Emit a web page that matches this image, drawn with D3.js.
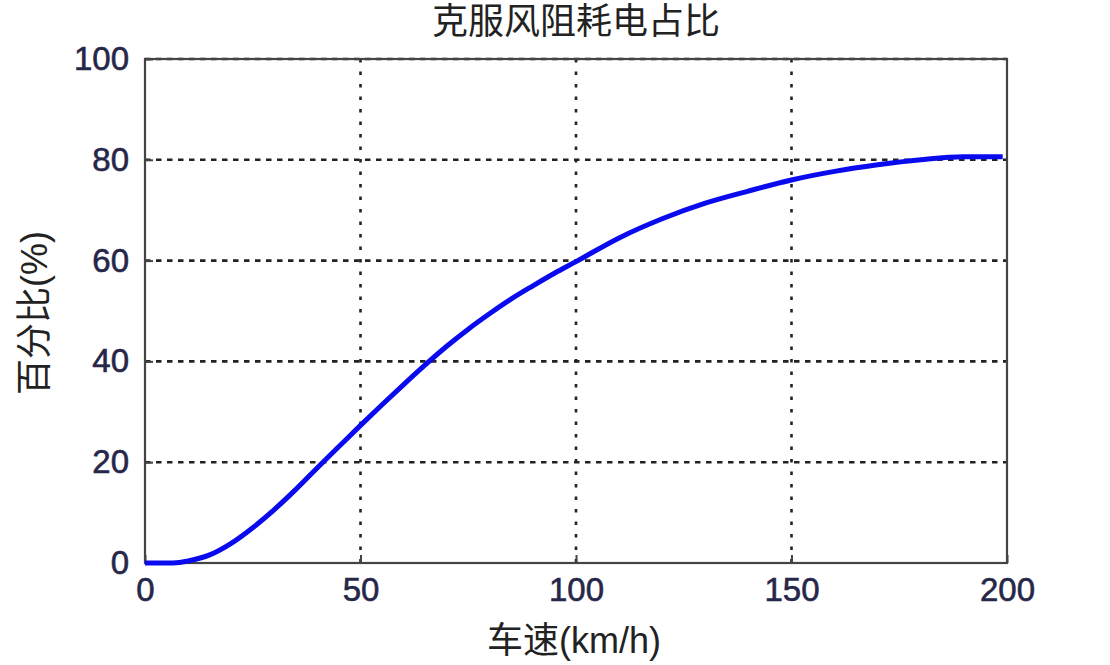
<!DOCTYPE html>
<html lang="zh">
<head>
<meta charset="UTF-8">
<title>克服风阻耗电占比</title>
<style>
  body { margin: 0; background: #fff; }
  svg { display: block; }
  text { font-family: "Liberation Sans", Arial, "Noto Sans CJK SC", sans-serif; }
</style>
</head>
<body>
<svg id="chart"></svg>
<script src="https://cdn.jsdelivr.net/npm/d3@7"></script>
<script>
    // 车速 (km/h)
    var speed = [0, 5, 8, 10, 15, 20, 25, 30, 35, 40, 45, 50, 55, 60, 65, 70, 75, 80, 85, 90, 95,
                 100, 110, 120, 130, 140, 150, 160, 170, 180, 190, 199];
    // 百分比 (%)
    var percent = [0, 0, 0.1, 0.4, 1.6, 3.9, 7, 10.6, 14.6, 18.9, 23.1, 27.3, 31.4, 35.4, 39.3, 43, 46.4, 49.5, 52.4, 55, 57.5,
                   59.8, 64.5, 68.3, 71.4, 73.8, 76, 77.7, 79, 80, 80.6, 80.6];
    var xTicks = [0, 50, 100, 150, 200];
    var yTicks = [0, 20, 40, 60, 80, 100];

    var width = 1110, height = 665;
    var margin = {top: 59, right: 103, bottom: 102, left: 145};
    var w = width - margin.left - margin.right;
    var h = height - margin.top - margin.bottom;

    var svg = d3.select("#chart")
        .attr("width", width)
        .attr("height", height);

    var x = d3.scaleLinear().domain([0, 200]).range([0, w]);
    var y = d3.scaleLinear().domain([0, 100]).range([h, 0]);

    var g = svg.append("g")
        .attr("transform", "translate(" + margin.left + "," + margin.top + ")");

    // 网格（虚线）
    g.selectAll(".vgrid").data(xTicks.slice(1, -1)).enter()
        .append("line")
        .attr("x1", function(d){ return x(d); })
        .attr("x2", function(d){ return x(d); })
        .attr("y1", 0).attr("y2", h)
        .attr("stroke", "#222")
        .attr("stroke-width", 2.6)
        .attr("stroke-dasharray", "3.5,9");

    g.selectAll(".hgrid").data(yTicks.slice(1)).enter()
        .append("line")
        .attr("x1", 0).attr("x2", w)
        .attr("y1", function(d){ return y(d); })
        .attr("y2", function(d){ return y(d); })
        .attr("stroke", "#222")
        .attr("stroke-width", 2.6)
        .attr("stroke-dasharray", "5.5,5.5");

    // 外框
    g.append("rect")
        .attr("width", w).attr("height", h)
        .attr("fill", "none")
        .attr("stroke", "#444")
        .attr("stroke-width", 2.2);

    // 坐标轴
    var xAxis = g.append("g")
        .attr("transform", "translate(0," + h + ")")
        .call(d3.axisBottom(x).tickValues(xTicks).tickSizeInner(-8).tickSizeOuter(0).tickPadding(15));
    var yAxis = g.append("g")
        .call(d3.axisLeft(y).tickValues(yTicks).tickSizeInner(-8).tickSizeOuter(0).tickPadding(16));

    [xAxis, yAxis].forEach(function(a){
        a.select(".domain").remove();
        a.selectAll(".tick line").attr("stroke", "#444").attr("stroke-width", 2);
        a.selectAll(".tick text")
            .attr("fill", "#262648")
            .attr("stroke", "#262648")
            .attr("stroke-width", 0.6)
            .style("font-size", "33px");
    });

    // 曲线
    var line = d3.line()
        .x(function(d, i){ return x(speed[i]); })
        .y(function(d){ return y(d); })
        .curve(d3.curveMonotoneX);

    g.append("path")
        .datum(percent)
        .attr("d", line)
        .attr("fill", "none")
        .attr("stroke", "#0a0aef")
        .attr("stroke-width", 5)
        .attr("stroke-linejoin", "round");

    // 标题和轴标签
    svg.append("text")
        .attr("x", margin.left + w / 2)
        .attr("y", 34)
        .attr("text-anchor", "middle")
        .attr("fill", "#222")
        .style("font-size", "36px")
        .text("克服风阻耗电占比");

    svg.append("text")
        .attr("x", margin.left + w / 2 - 2)
        .attr("y", 653)
        .attr("text-anchor", "middle")
        .attr("fill", "#222")
        .style("font-size", "36px")
        .text("车速(km/h)");

    svg.append("text")
        .attr("transform", "translate(47," + (margin.top + h / 2 + 2) + ") rotate(-90)")
        .attr("text-anchor", "middle")
        .attr("fill", "#222")
        .style("font-size", "36px")
        .text("百分比(%)");
</script>
</body>
</html>
